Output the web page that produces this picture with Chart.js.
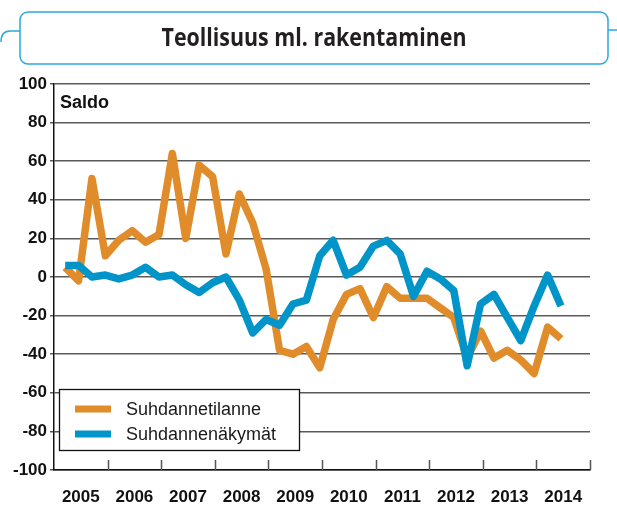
<!DOCTYPE html>
<html>
<head>
<meta charset="utf-8">
<script src="https://cdn.jsdelivr.net/npm/chart.js@4.4.1/dist/chart.umd.min.js"></script>
<style>
  body { margin: 0; background: #fff; }
  canvas { display: block; }
</style>
</head>
<body>
<canvas id="chart" width="617" height="520"></canvas>
<script>
const years = ['2005', '2006', '2007', '2008', '2009', '2010', '2011', '2012', '2013', '2014'];
// quarterly saldo values, 2005 Q1 .. 2014 Q2
const tilanne = [5, -2, 51, 11, 19, 24, 18, 22, 64, 20, 58, 52, 12, 43, 28, 4,
    -38, -40, -36, -47, -22, -9, -6, -21, -5, -11, -11, -11, -16, -21, -42, -28,
    -42, -38, -43, -50, -26, -32];
const nakymat = [6, 6, 0, 1, -1, 1, 5, 0, 1, -4, -8, -3, 0, -12, -29, -22,
    -25, -14, -12, 11, 19, 1, 5, 16, 19, 12, -10, 3, -1, -7, -46, -14,
    -9, -21, -33, -15, 1, -15];
const yTicks = [-100, -80, -60, -40, -20, 0, 20, 40, 60, 80, 100];

const orange = '#e18c2a';
const blue = '#0094c9';
const labelFont = "'Liberation Sans', Arial, sans-serif";

// monthly axis, the survey value sits in the last month of each quarter
const months = years.flatMap(y => Array.from({ length: 12 }, (_, m) => y + '-' + (m + 1)));
const toMonthly = arr => months.map((_, m) => (m % 3 === 2 && arr[(m - 2) / 3] !== undefined) ? arr[(m - 2) / 3] : null);

const framePlugin = {
    id: 'frame',
    beforeDraw(chart) {
        const ctx = chart.ctx;
        ctx.save();
        ctx.fillStyle = '#fff';
        ctx.fillRect(0, 0, chart.width, chart.height);
        ctx.restore();
    },
    afterDraw(chart) {
        const ctx = chart.ctx;
        const area = chart.chartArea;
        ctx.save();

        // title box
        ctx.strokeStyle = '#2aa8e0';
        ctx.lineWidth = 1.5;
        ctx.beginPath();
        ctx.moveTo(1, 42);
        ctx.quadraticCurveTo(1, 31, 10, 31);
        ctx.lineTo(20, 31);
        ctx.moveTo(608, 30);
        ctx.lineTo(617, 30);
        ctx.stroke();
        ctx.beginPath();
        ctx.roundRect(20, 12, 588, 52, 8);
        ctx.fillStyle = '#fff';
        ctx.fill();
        ctx.stroke();

        ctx.fillStyle = '#231f20';
        ctx.font = "bold 25px 'Open Sans', sans-serif";
        ctx.textBaseline = 'alphabetic';
        ctx.textAlign = 'center';
        const title = 'Teollisuus ml. rakentaminen';
        const tw = ctx.measureText(title).width;
        ctx.translate(314, 46);
        ctx.scale(305 / tw, 1);
        ctx.fillText(title, 0, 0);
        ctx.setTransform(1, 0, 0, 1, 0, 0);

        // Saldo
        ctx.textAlign = 'left';
        ctx.font = 'bold 18px ' + labelFont;
        ctx.fillStyle = '#111';
        ctx.fillText('Saldo', area.left + 6, 108);

        // year boundary ticks going up from the axis
        const ys = chart.scales.year;
        const w = (ys.right - ys.left) / years.length;
        ctx.strokeStyle = '#555';
        ctx.lineWidth = 1.5;
        ctx.beginPath();
        for (let k = 1; k <= years.length; k++) {
            const x = Math.round(ys.left + k * w) + 0.5;
            ctx.moveTo(x, area.bottom);
            ctx.lineTo(x, area.bottom - 10);
        }
        ctx.stroke();

        // legend
        const lx = area.left + 5, ly = 389, lw = 240, lh = 61;
        ctx.fillStyle = '#fff';
        ctx.fillRect(lx, ly, lw, lh);
        ctx.strokeStyle = '#111';
        ctx.lineWidth = 1.3;
        ctx.strokeRect(lx + 0.5, ly + 0.5, lw, lh);
        ctx.font = '18px ' + labelFont;
        ctx.textBaseline = 'middle';
        chart.data.datasets.forEach((ds, i) => {
            const cy = ly + 20 + i * 25;
            ctx.fillStyle = ds.borderColor;
            ctx.fillRect(lx + 16, cy - 3.5, 36, 7);
            ctx.fillStyle = '#1a1a1a';
            ctx.fillText(ds.label, lx + 67, cy + 1);
        });
        ctx.restore();
    }
};

const ctx = document.getElementById('chart').getContext('2d');
const chart = new Chart(ctx, {
    type: 'line',
    data: {
        labels: months,
        datasets: [{
            label: 'Suhdannetilanne',
            data: toMonthly(tilanne),
            borderColor: orange,
            borderWidth: 7.5,
            borderJoinStyle: 'round',
            pointRadius: 0,
            spanGaps: true,
            tension: 0,
            order: 1
        }, {
            label: 'Suhdannenäkymät',
            data: toMonthly(nakymat),
            borderColor: blue,
            borderWidth: 7.5,
            borderJoinStyle: 'round',
            pointRadius: 0,
            spanGaps: true,
            tension: 0,
            order: 0
        }]
    },
    options: {
        responsive: false,
        animation: false,
        layout: { padding: { top: 84, right: 27, left: 0, bottom: 0 } },
        plugins: {
            legend: { display: false },
            tooltip: { enabled: false }
        },
        scales: {
            x: { type: 'category', display: false, offset: true },
            year: {
                type: 'category',
                labels: years,
                position: 'bottom',
                offset: true,
                grid: { display: false },
                border: { display: true, color: '#111', width: 1.5 },
                ticks: {
                    color: '#111',
                    font: { family: labelFont, size: 17, weight: 'bold' },
                    padding: 9,
                    maxRotation: 0,
                    autoSkip: false
                },
                afterFit: s => { s.height = 50; }
            },
            y: {
                min: -100,
                max: 100,
                afterBuildTicks: s => { s.ticks = yTicks.map(v => ({ value: v })); },
                grid: { color: '#5a5a5a', lineWidth: 1.5, tickLength: 4 },
                border: { color: '#111', width: 1.5 },
                ticks: {
                    color: '#111',
                    font: { family: labelFont, size: 17, weight: 'bold' },
                    padding: 3
                },
                afterFit: s => { s.width = 54; }
            }
        }
    },
    plugins: [framePlugin]
});
</script>
</body>
</html>
